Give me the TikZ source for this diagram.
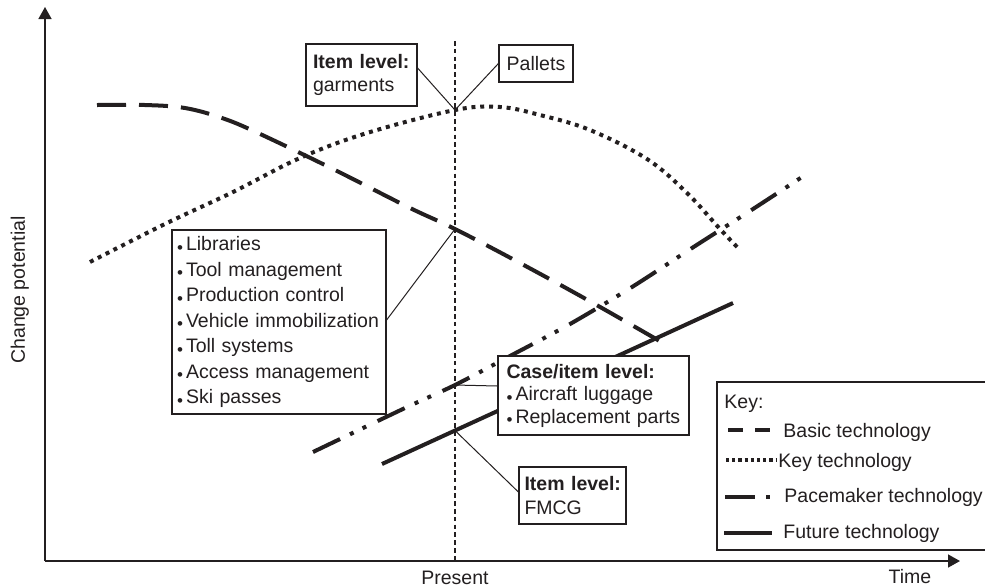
\documentclass[tikz,border=0pt]{standalone}
\usepackage{fontspec}
\setmainfont{Liberation Sans}
\usetikzlibrary{arrows.meta}
\definecolor{ink}{HTML}{231F20}
% small, low bullet used in the lists
\newcommand\bul{\makebox[4.5pt][l]{\raisebox{-1.4pt}{\fontsize{8.5}{8.5}\selectfont •}}}

\begin{document}
\begin{tikzpicture}[x=0.5pt,y=-0.5pt,
  every node/.style={text=ink, font=\fontsize{9.75}{12.5}\selectfont},
  axis/.style={draw=ink, line width=0.75pt, -{Triangle[length=6pt,width=6.5pt]}},
  present/.style={draw=ink, line width=0.8pt, dash pattern=on 2.3pt off 1.6pt},
  tech/.style={draw=ink, line width=2pt},
  basic/.style={tech, dash pattern=on 14.5pt off 6.5pt},
  keytech/.style={tech, line width=2pt, dash pattern=on 2pt off 2.4pt},
  pacemaker/.style={tech, dash pattern=on 15pt off 5.5pt on 2pt off 5pt on 2pt off 6.3pt},
  future/.style={tech},
  box/.style={draw=ink, line width=0.6pt, fill=white, align=left, inner ysep=0pt},
  callout/.style={draw=ink, line width=0.5pt},
  axislabel/.style={anchor=base, inner sep=0pt},
  keylabel/.style={anchor=base west, inner sep=0pt},
]
\useasboundingbox (0,0) rectangle (985,586);

% axes
\coordinate (origin) at (45,561);
\coordinate (ytip) at (45,7);
\coordinate (xtip) at (960,561);
\draw[axis] (origin) -- (ytip);
\draw[axis] (origin) -- (xtip);

\node[axislabel, rotate=90] (ylab) at (25,290) {Change potential};
\node[axislabel] (nowlab) at (455,584) {Present};
\node[axislabel] (timelab) at (910,583) {Time};

% the present
\coordinate (ptop) at (455,41);
\coordinate (pbot) at (455,561);
\draw[present] (ptop) -- (pbot);

% technology curves
\draw[basic] plot[smooth, tension=0.6] coordinates {(97,105) (145,105) (185,108) (222,118) (258,133) (333,169) (408,207) (455,229) (520,263) (593,303) (670,347)};
\draw[keytech] plot[smooth, tension=0.6] coordinates {(90,262) (167,223) (233,192) (300,158) (367,133) (455,110) (500,107) (540,115) (590,130) (647,159) (687,193) (720,229) (740,250)};
\draw[pacemaker] plot[smooth, tension=0.5] coordinates {(313,452) (405,408) (455,385) (510,356) (570,324) (632,287) (692,248) (753,209) (802,177)};
\coordinate (fs) at (382,464);
\coordinate (fe) at (733,303);
\draw[future] (fs) -- (fe);

% points where the callouts touch the curves
\coordinate (onkey) at (455,110);
\coordinate (onbasic) at (455,229);
\coordinate (onpace) at (455,385);
\coordinate (onfuture) at (455,430.5);

% callout boxes
\node[box, text width=48.5pt, inner xsep=3.5pt, minimum height=31pt,
      font=\fontsize{9.75}{11.2}\selectfont] (garm) at (361.5,75)
  {\textbf{Item~level:}\\garments};
\node[box, align=center, inner sep=0pt, minimum width=37pt, minimum height=18.5pt] (pal) at (536,63.5) {Pallets};
\node[box, text width=102pt, inner xsep=2.5pt, minimum height=92pt,
      font=\fontsize{9.75}{12.75}\selectfont] (apps) at (279,322)
  {\bul Libraries\\\bul Tool~management\\\bul Production~control\\\bul Vehicle~immobilization\\\bul Toll~systems\\\bul Access~management\\\bul Ski~passes};
\node[box, text width=87pt, inner xsep=4.25pt, minimum height=39.5pt,
      font=\fontsize{9.75}{11.25}\selectfont] (case) at (593.5,395.5)
  {\textbf{Case/item~level:}\\\bul Aircraft~luggage\\\bul Replacement~parts};
\node[box, text width=48pt, inner xsep=2.75pt, minimum height=28.5pt,
      font=\fontsize{9.75}{12}\selectfont] (fmcg) at (572.5,495.5)
  {\textbf{Item~level:}\\FMCG};

% callout lines
\draw[callout] ([yshift=3.5pt]garm.east) -- (onkey);
\draw[callout] (pal.west) -- (onkey);
\draw[callout] ([yshift=1pt]apps.east) -- (onbasic);
\draw[callout] ([yshift=4.75pt]case.west) -- (onpace);
\draw[callout] ([yshift=1.75pt]fmcg.west) -- (onfuture);

% key
\node[box, inner sep=0pt, minimum width=139pt, minimum height=84pt] (keybox) at (856,466) {};
\node[keylabel] (khead) at (724,408) {Key:};
\node[keylabel] (kbasic) at (783,437) {Basic technology};
\node[keylabel] (kkey) at (778,467) {Key technology};
\node[keylabel] (kpace) at (784,502) {Pacemaker technology};
\node[keylabel] (kfuture) at (783,538) {Future technology};
\draw[basic, dash pattern=on 7.5pt off 6pt] (728,430) -- (770,430);
\draw[keytech, line width=1.6pt, dash pattern=on 1.6pt off 1.5pt] (726,460) -- (777,460);
\draw[pacemaker] (725,497) -- (770,497);
\draw[future] (724,533) -- (772,533);
\end{tikzpicture}
\end{document}
